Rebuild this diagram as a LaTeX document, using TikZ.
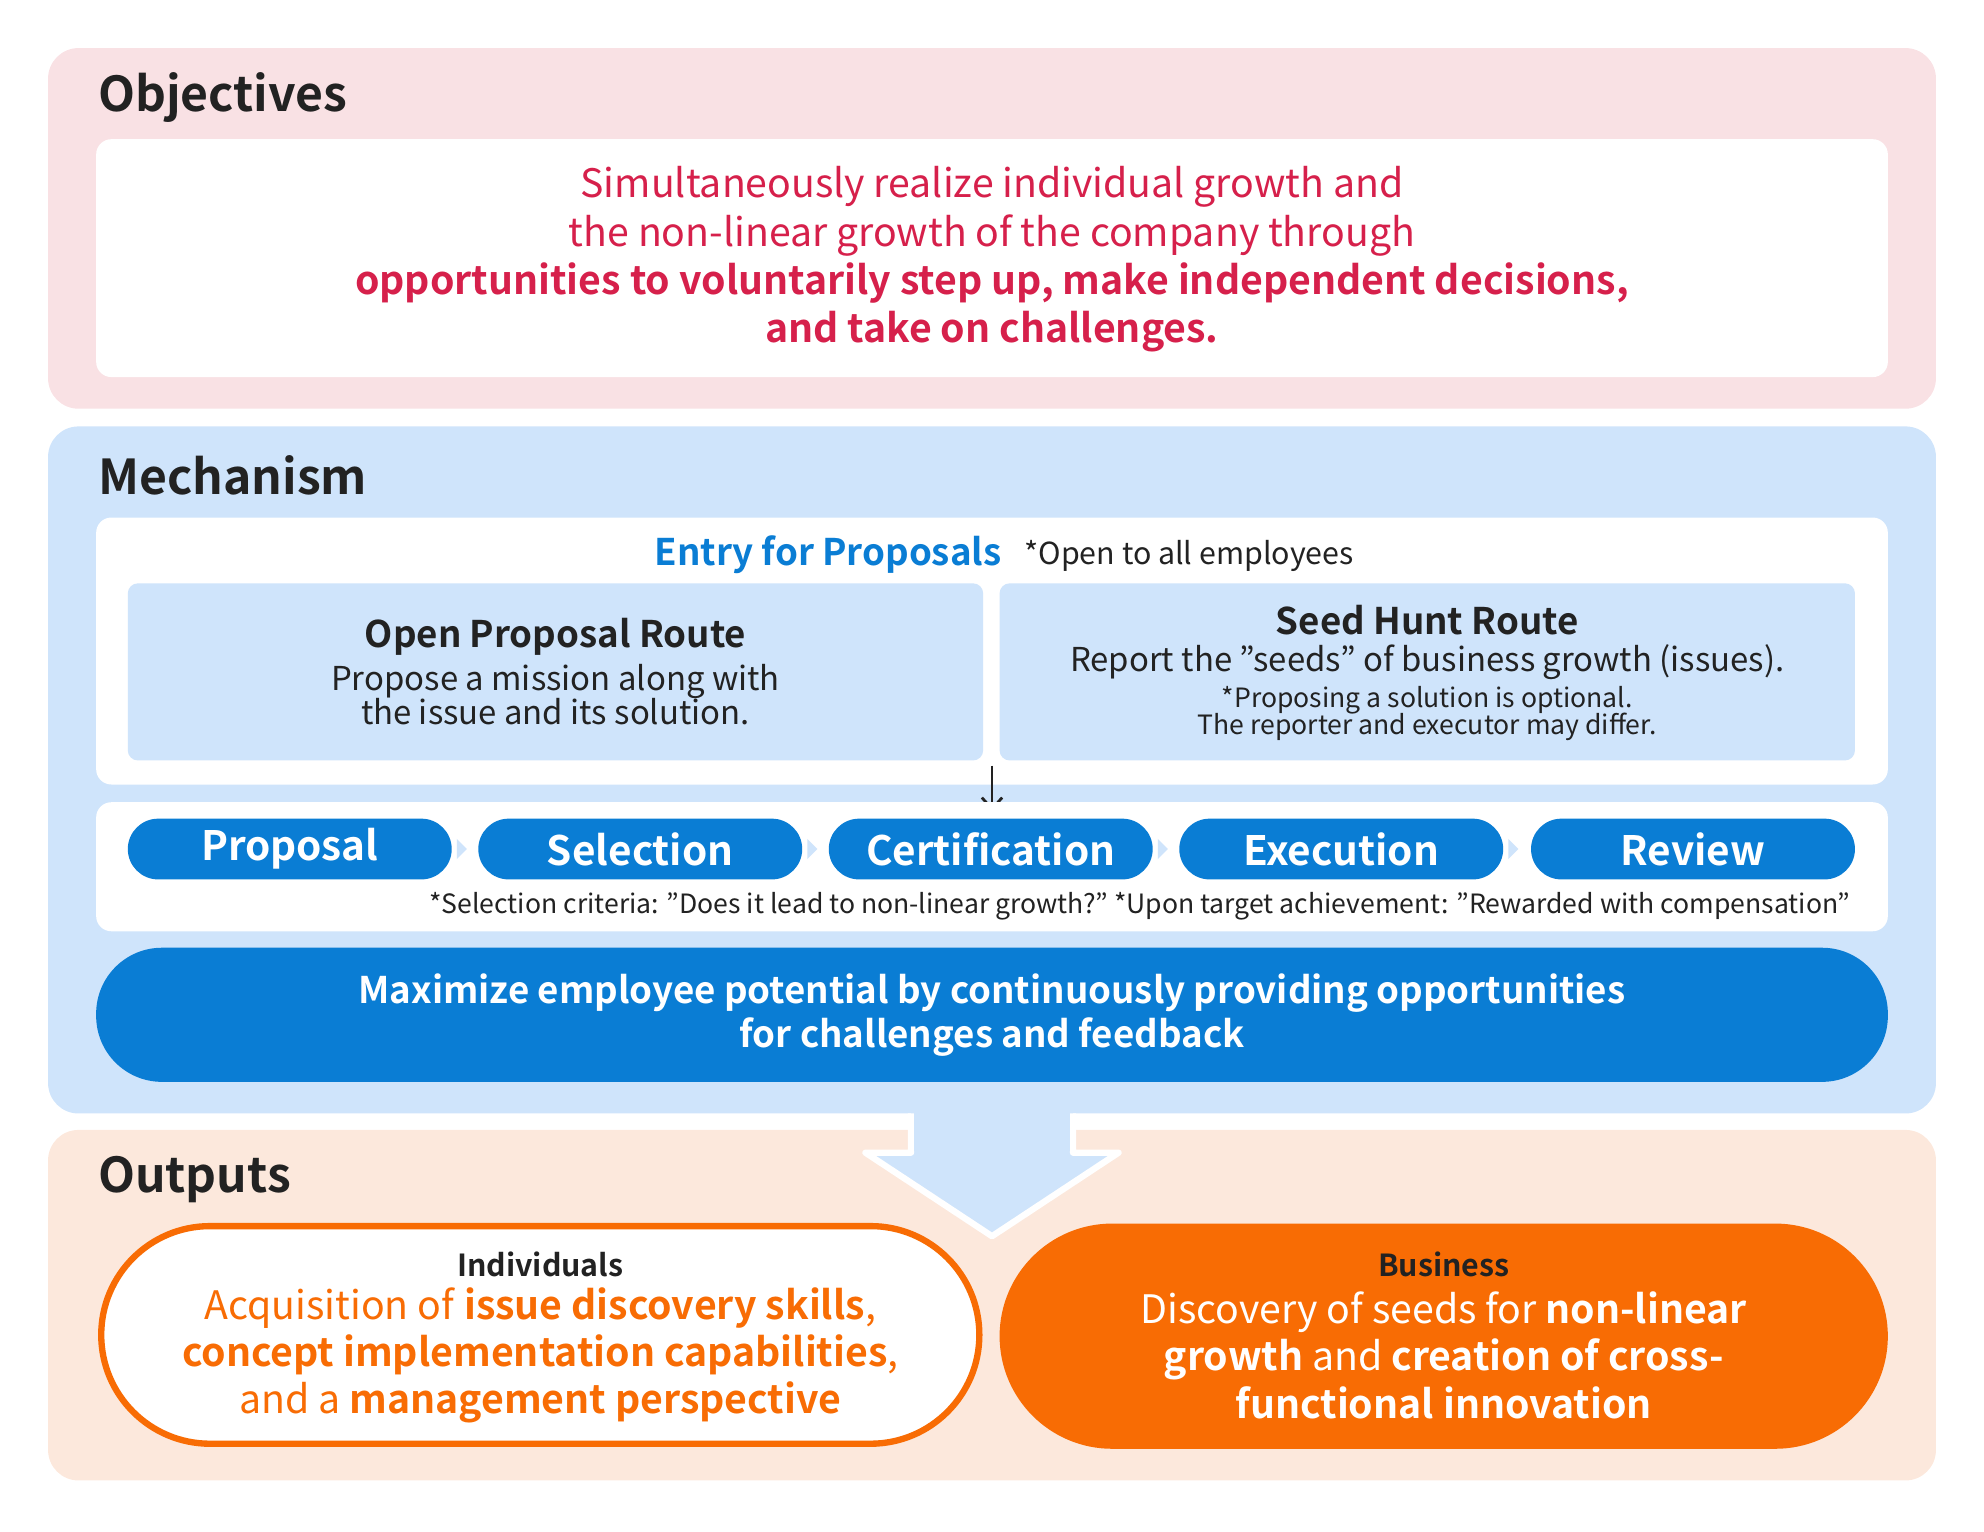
\documentclass[tikz,border=0pt]{standalone}
\usepackage{fontspec}
\setmainfont{Noto Sans CJK JP}[BoldFont={Noto Sans CJK JP Bold}]
\usetikzlibrary{positioning,arrows.meta}
\definecolor{pinkbg}{HTML}{F9E1E4}
\definecolor{bluebg}{HTML}{CFE4FB}
\definecolor{orbg}{HTML}{FCE8DC}
\definecolor{red1}{HTML}{D6204B}
\definecolor{blue1}{HTML}{0A7DD4}
\definecolor{or1}{HTML}{F86C04}
\definecolor{dark}{HTML}{222222}
\newcommand{\fs}[1]{\fontsize{#1}{#1}\selectfont}
\begin{document}
\begin{tikzpicture}[x=1pt,y=-1pt,
 sec/.style={rounded corners=24pt},
 wbox/.style={fill=white,rounded corners=12pt},
 head/.style={anchor=west,font=\fs{38}\bfseries,text=dark},
 pill/.style={fill=blue1,rounded corners=24pt},
 ptxt/.style={font=\fs{32}\bfseries,text=white},
 tri/.style={fill=bluebg}]
\useasboundingbox (0,0) rectangle (1568,1210);
% sections
\fill[pinkbg,sec] (38,38) rectangle (1530,323);
\fill[bluebg,sec] (38,337) rectangle (1530,880);
\fill[orbg,sec] (38,893) rectangle (1530,1170);
\node[head] (hobj) at (74,77) {Objectives};
\node[head] (hmec) at (74,376) {Mechanism};
\node[head] (hout) at (74,932) {Outputs};
% objectives
\fill[wbox] (76,110) rectangle (1492,298);
\begin{scope}[every node/.style={text=red1,font=\fs{31}}]
\node (o1) at (784,148) {Simultaneously realize individual growth and};
\node (o2) at (784,186) {the non-linear growth of the company through};
\node[font=\fs{31}\bfseries] (o3) at (784,224) {opportunities to voluntarily step up, make independent decisions,};
\node[font=\fs{31}\bfseries] (o4) at (784,262) {and take on challenges.};
\end{scope}
% mechanism
\fill[wbox] (76,409) rectangle (1492,620);
\node[anchor=east,text=blue1,font=\fs{29}\bfseries] (entry) at (795,438) {Entry for Proposals};
\node[anchor=west,text=dark,font=\fs{24}] (open) at (806,439) {*Open to all employees};
\fill[bluebg,rounded corners=8pt] (101,461) rectangle (777,601);
\fill[bluebg,rounded corners=8pt] (790,461) rectangle (1466,601);
\node[text=dark,font=\fs{29}\bfseries] (opr) at (439,503) {Open Proposal Route};
\node[text=dark,font=\fs{26},align=center] (oprt) at (439,549) {Propose a mission along with\\[-1pt]the issue and its solution.};
\node[text=dark,font=\fs{29}\bfseries] (shr) at (1128,490) {Seed Hunt Route};
\node[text=dark,font=\fs{26}] (shrt) at (1128,523) {Report the "seeds" of business growth (issues).};
\node[text=dark,font=\fs{21},align=center] (shrn) at (1128,564) {*Proposing a solution is optional.\\[-2pt]The reporter and executor may differ.};
\coordinate (as) at (784,605);
\coordinate (ae) at (784,641);
\draw[dark,line width=2.2pt,-{Straight Barb[length=9pt,width=16pt]}] (as) -- (ae);
\fill[wbox] (76,634) rectangle (1492,736);
\foreach \n/\x/\t in {p1/101/Proposal,p2/378/Selection,p3/655/Certification,p4/932/Execution,p5/1210/Review}{
  \fill[pill] (\x,647) rectangle ++(256,48);
  \node[ptxt] (\n) at (\x+128,671) {\t};
}
\foreach \x in {357,634,911,1188}{
  \fill[tri] (\x+4,663) -- (\x+12,671) -- (\x+4,679) -- cycle;
}
\node[anchor=east,text=dark,font=\fs{21}] (crit) at (1466,716) {*Selection criteria: "Does it lead to non-linear growth?" *Upon target achievement: "Rewarded with compensation"};
\fill[blue1,rounded corners=52pt] (76,749) rectangle (1492,855);
\node[text=white,font=\fs{29}\bfseries,align=center] (max) at (784,802) {Maximize employee potential by continuously providing opportunities\\[3pt]for challenges and feedback};
% big arrow
\fill[bluebg] (720,878) -- (848,878) -- (848,911) -- (884,911) -- (784,977) -- (684,911) -- (720,911) -- cycle;
\draw[white,line width=5pt,line join=round] (720,880) -- (720,911) -- (684,911) -- (784,977) -- (884,911) -- (848,911) -- (848,880);
\fill[bluebg] (722.5,875) rectangle (845.5,910);
% outputs
\draw[or1,fill=white,line width=5pt,rounded corners=86pt] (80,969) rectangle (774,1141);
\fill[or1,rounded corners=89pt] (790,967) rectangle (1492,1145);
\node[text=dark,font=\fs{24}\bfseries] (ind) at (427,999) {Individuals};
\node[text=or1,font=\fs{31},align=center] (indt) at (427,1071) {Acquisition of \textbf{issue discovery skills},\\[4pt]\textbf{concept implementation capabilities},\\[4pt]and a \textbf{management perspective}};
\node[text=dark,font=\fs{24}\bfseries] (bus) at (1141,999) {Business};
\node[text=white,font=\fs{31},align=center] (bust) at (1141,1071) {Discovery of seeds for \textbf{non-linear}\\[4pt]\textbf{growth} and \textbf{creation of cross-}\\[4pt]\textbf{functional innovation}};
\end{tikzpicture}
\end{document}
